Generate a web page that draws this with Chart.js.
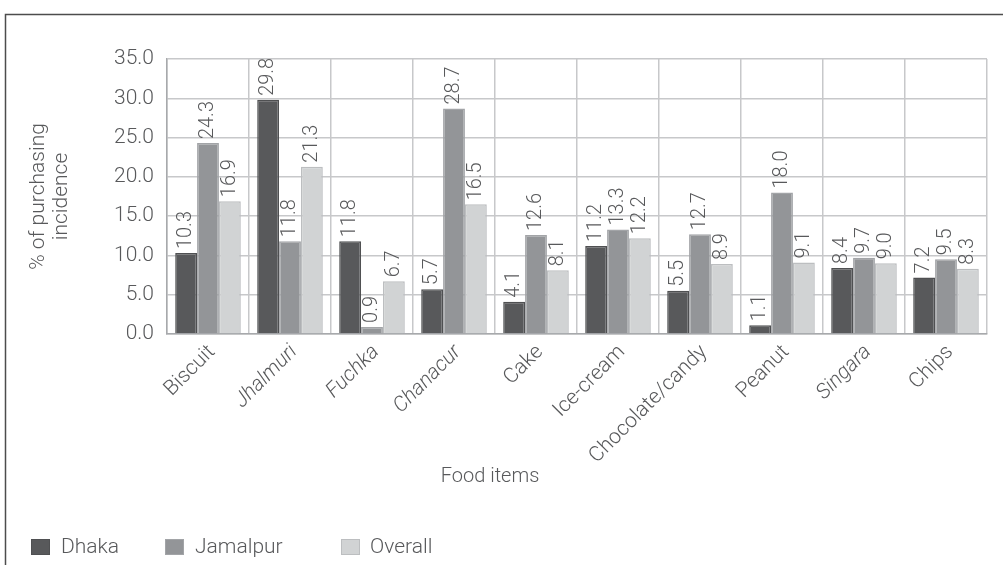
<!DOCTYPE html>
<html>
<head>
<meta charset="utf-8">
<title>Purchasing incidence by food item</title>
<script src="https://cdn.jsdelivr.net/npm/chart.js@4/dist/chart.umd.min.js"></script>
<style>
  html, body { margin: 0; padding: 0; background: #ffffff; }
  #wrap { width: 1003px; height: 565px; }
</style>
</head>
<body>
<div id="wrap"><canvas id="chart" width="1003" height="565"></canvas></div>
<script>
// Food items surveyed
const categories = ['Biscuit', 'Jhalmuri', 'Fuchka', 'Chanacur', 'Cake', 'Ice-cream',
                    'Chocolate/candy', 'Peanut', 'Singara', 'Chips'];

// % of purchasing incidence per location
const dhaka    = [10.3, 29.8, 11.8, 5.7, 4.1, 11.2, 5.5, 1.1, 8.4, 7.2];
const jamalpur = [24.3, 11.8, 0.9, 28.7, 12.6, 13.3, 12.7, 18.0, 9.7, 9.5];
const overall  = [16.9, 21.3, 6.7, 16.5, 8.1, 12.2, 8.9, 9.1, 9.0, 8.3];

const seriesNames = ['Dhaka', 'Jamalpur', 'Overall'];

// Value axis ticks
const yTicks = [0, 5, 10, 15, 20, 25, 30, 35];

// Local snack names are set in italics on the category axis
const localNames = new Set(['Jhalmuri', 'Fuchka', 'Chanacur', 'Singara']);

const FONT = 'Roboto, "Liberation Sans", Arial, sans-serif';
const TEXT = '#58595b';
const fills   = ['#58595b', '#939598', '#d1d3d4'];
const borders = ['#4f5052', '#a2a4a7', '#bcbec0'];

// Outer frame (top and left rules)
const framePlugin = {
  id: 'frame',
  beforeDraw(chart) {
    const ctx = chart.ctx;
    ctx.save();
    ctx.strokeStyle = '#4d4d4d';
    ctx.lineWidth = 1.5;
    ctx.beginPath();
    ctx.moveTo(5.5, chart.height);
    ctx.lineTo(5.5, 14.5);
    ctx.lineTo(chart.width, 14.5);
    ctx.stroke();
    ctx.restore();
  }
};

// Vertical value labels above each bar
const valueLabels = {
  id: 'valueLabels',
  afterDatasetsDraw(chart) {
    const ctx = chart.ctx;
    ctx.save();
    ctx.fillStyle = TEXT;
    ctx.font = '300 20px ' + FONT;
    ctx.textAlign = 'left';
    ctx.textBaseline = 'middle';
    chart.data.datasets.forEach((ds, di) => {
      const meta = chart.getDatasetMeta(di);
      meta.data.forEach((bar, i) => {
        ctx.save();
        ctx.translate(bar.x, bar.y - 4);
        ctx.rotate(-Math.PI / 2);
        ctx.fillText(ds.data[i].toFixed(1), 0, 0);
        ctx.restore();
      });
    });
    ctx.restore();
  }
};

// Axis title under the category labels and the series key at the bottom
const footer = {
  id: 'footer',
  afterDraw(chart) {
    const ctx = chart.ctx;
    ctx.save();
    ctx.fillStyle = TEXT;
    ctx.font = '300 20px ' + FONT;
    ctx.textAlign = 'center';
    ctx.textBaseline = 'middle';
    ctx.fillText('Food items', 490, 477);

    const boxX = [31, 165, 341];
    const textX = [61, 195, 370];
    const y = 547;
    ctx.font = '300 21px ' + FONT;
    ctx.textAlign = 'left';
    chart.data.datasets.forEach((ds, i) => {
      ctx.fillStyle = ds.backgroundColor;
      ctx.fillRect(boxX[i], y - 8, 19, 16);
      ctx.strokeStyle = ds.borderColor;
      ctx.lineWidth = 1;
      ctx.strokeRect(boxX[i] + 0.5, y - 7.5, 18, 15);
      ctx.fillStyle = TEXT;
      ctx.fillText(ds.label, textX[i], y + 1);
    });
    ctx.restore();
  }
};

const datasets = [dhaka, jamalpur, overall].map((values, i) => ({
  label: seriesNames[i],
  data: values,
  backgroundColor: fills[i],
  borderColor: borders[i],
  borderWidth: 1.5,
  categoryPercentage: 0.8,
  barPercentage: 1.0
}));

new Chart(document.getElementById('chart'), {
  type: 'bar',
  data: { labels: categories, datasets },
  plugins: [framePlugin, valueLabels, footer],
  options: {
    responsive: false,
    devicePixelRatio: 1,
    animation: false,
    layout: { padding: { top: 59, right: 16, left: 0, bottom: 0 } },
    plugins: {
      legend: { display: false },
      tooltip: { enabled: false }
    },
    scales: {
      x: {
        grid: { offset: true, color: '#c7c8ca', lineWidth: 1.5, drawTicks: false },
        border: { color: '#a7a9ac', width: 1.5 },
        ticks: {
          autoSkip: false,
          minRotation: 45,
          maxRotation: 45,
          padding: 6,
          labelOffset: 4,
          color: TEXT,
          font: (c) => ({
            family: FONT,
            size: 21,
            weight: '300',
            style: localNames.has(categories[c.index]) ? 'italic' : 'normal'
          })
        },
        afterFit(scale) { scale.height = 231; }
      },
      y: {
        min: 0,
        max: 35,
        afterBuildTicks(scale) { scale.ticks = yTicks.map(v => ({ value: v })); },
        grid: { color: '#c7c8ca', lineWidth: 1.5, drawTicks: false },
        border: { color: '#a7a9ac', width: 1.5 },
        ticks: {
          padding: 13,
          color: TEXT,
          font: { family: FONT, size: 21, weight: '300' },
          callback: (v) => Number(v).toFixed(1)
        },
        title: {
          display: true,
          text: ['% of purchasing', 'incidence'],
          color: TEXT,
          font: { family: FONT, size: 21, weight: '300', lineHeight: 1.1 },
          padding: { top: 27, bottom: 0 }
        },
        afterFit(scale) { scale.width = 167; }
      }
    }
  }
});
</script>
</body>
</html>
